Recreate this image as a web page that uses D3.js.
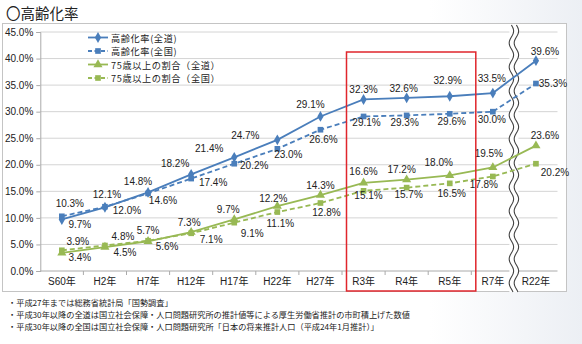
<!DOCTYPE html>
<html><head><meta charset="utf-8">
<script src="https://cdn.jsdelivr.net/npm/d3@7"></script>
<style>
body{margin:0;background:#fff;}
text{font-family:"Liberation Sans","Noto Sans CJK JP",sans-serif;fill:#222;}
</style></head>
<body>
<svg id="c" width="582" height="344"></svg>
<script>
const categories = ["S60年","H2年","H7年","H12年","H17年","H22年","H27年","R3年","R4年","R5年","R7年","R22年"];
const hokkaidoAging = [9.7,12.0,14.8,18.2,21.4,24.7,29.1,32.3,32.6,32.9,33.5,39.6];
const nationalAging = [10.3,12.1,14.6,17.4,20.2,23.0,26.6,29.1,29.3,29.6,30.0,35.3];
const hokkaido75 = [3.4,4.5,5.6,7.3,9.7,12.2,14.3,16.6,17.2,18.0,19.5,23.6];
const national75 = [3.9,4.8,5.7,7.1,9.1,11.1,12.8,15.1,15.7,16.5,17.8,20.2];
const yTicks = [0,5,10,15,20,25,30,35,40,45];
const seriesNames = ["高齢化率(全道)","高齢化率(全国)","75歳以上の割合（全道）","75歳以上の割合（全国）"];
const highlighted = ["R3年","R4年","R5年"];
const footnotes = [
  "・平成27年までは総務省統計局「国勢調査」",
  "・平成30年以降の全道は国立社会保障・人口問題研究所の推計値等による厚生労働省推計の市町積上げた数値",
  "・平成30年以降の全国は国立社会保障・人口問題研究所「日本の将来推計人口（平成24年1月推計）」"
];

// label offsets (style/layout, relative to each point)
const offHA = [[18,5],[22,3],[-10,-11],[-16,-11],[-25,-9],[-32,-4],[-10,-12],[0,-10],[-3,-9],[-2,-16],[-1,-15],[9,-9]];
const offNA = [[8,-13],[2,-12],[15,7],[22,4],[20,2],[11,6],[3,10],[3,6],[-2,7],[2,8],[-1,8],[17,0]];
const offH75 = [[18,5],[20,5],[19,5],[-2,-10],[-6,-10],[-4,-8],[0,-10],[0,-11],[-5,-10],[-11,-13],[-4,-14],[9,-10]];
const offN75 = [[16,-9],[18,-9],[0,-10],[20,6],[18,11],[3,11],[6,9],[5,5],[2,7],[2,10],[-9,8],[19,9]];

const svg = d3.select("#c");
const blue = "#4a7ebb", green = "#98b954";

// right-side tint
const defs = svg.append("defs");
const lg = defs.append("linearGradient").attr("id","bg").attr("x1","0").attr("x2","1");
lg.append("stop").attr("offset","0").attr("stop-color","#ffffff");
lg.append("stop").attr("offset","1").attr("stop-color","#eceff4");
svg.append("rect").attr("x",430).attr("y",0).attr("width",152).attr("height",344).attr("fill","url(#bg)");

// title
svg.append("text").attr("x",6).attr("y",19).attr("font-size",14.5)
  .style("font-family","'Noto Sans CJK JP',sans-serif").text("〇高齢化率");

// chart frame
svg.append("rect").attr("x",2.5).attr("y",23.5).attr("width",564).attr("height",268)
  .attr("fill","#fff").attr("stroke","#c4c4c4");

const x = d3.scaleBand().domain(categories).range([40.3,557.5]);
const cx = c => x(c) + x.bandwidth()/2;
const y = d3.scaleLinear().domain([0,45]).range([271,32]);

// gridlines
svg.append("g").selectAll("line").data(yTicks.filter(t=>t>0)).join("line")
  .attr("x1",40.3).attr("x2",557.5).attr("y1",d=>y(d)).attr("y2",d=>y(d))
  .attr("stroke","#d4d4d4");

// y axis
const ya = svg.append("g").attr("transform","translate(40.3,0)")
  .call(d3.axisLeft(y).tickValues(yTicks).tickSize(4).tickPadding(3).tickFormat(d=>d.toFixed(1)+"%"));
ya.select(".domain").attr("stroke","#aaa");
ya.selectAll(".tick line").attr("stroke","#aaa");
ya.selectAll("text").attr("font-size",10).style("fill","#222");

// x axis
const xa = svg.append("g").attr("transform","translate(0,271)")
  .call(d3.axisBottom(x).tickSize(0).tickPadding(7));
xa.select(".domain").attr("stroke","#aaa").attr("d","M40.3,0H557.5");
xa.selectAll("text").attr("font-size",10).style("fill","#222")
  .style("font-family","'Liberation Sans','Noto Sans CJK JP',sans-serif");
svg.append("g").selectAll("line").data(categories.slice(1)).join("line")
  .attr("x1",d=>x(d)).attr("x2",d=>x(d)).attr("y1",271).attr("y2",275).attr("stroke","#aaa");

// break band
const bx = x("R22年");
function wave(x0){
  let p = "";
  for(let yy=25; yy<=292; yy+=1){
    const xx = x0 + 2.2*Math.sin((yy-25)/24*2*Math.PI);
    p += (p?"L":"M")+xx.toFixed(2)+","+yy;
  }
  return p;
}
svg.append("rect").attr("x",bx-5).attr("y",25).attr("width",9).attr("height",267).attr("fill","#fff");
svg.append("path").attr("d",wave(bx-3)).attr("fill","none").attr("stroke","#444").attr("stroke-width",1.1);
svg.append("path").attr("d",wave(bx+2)).attr("fill","none").attr("stroke","#444").attr("stroke-width",1.1);

// series
const series = [
  {vals:hokkaidoAging, color:blue, dash:null, marker:"diamond", off:offHA},
  {vals:nationalAging, color:blue, dash:"5,3", marker:"square", off:offNA},
  {vals:hokkaido75, color:green, dash:null, marker:"triangle", off:offH75},
  {vals:national75, color:green, dash:"5,3", marker:"square", off:offN75}
];
const sym = {diamond:d3.symbol().type(d3.symbolDiamond).size(34),
             square:d3.symbol().type(d3.symbolSquare).size(32),
             triangle:d3.symbol().type(d3.symbolTriangle).size(36)};
const line = d3.line().x((d,i)=>cx(categories[i])).y(d=>y(d));

series.forEach(s=>{
  svg.append("path").attr("d",line(s.vals)).attr("fill","none").attr("stroke",s.color)
    .attr("stroke-width",1.8).attr("stroke-dasharray",s.dash);
  svg.append("g").selectAll("path").data(s.vals).join("path")
    .attr("d",sym[s.marker]).attr("fill",s.color)
    .attr("transform",(d,i)=>`translate(${cx(categories[i])},${y(d)})`);
  svg.append("g").selectAll("text").data(s.vals).join("text")
    .attr("x",(d,i)=>cx(categories[i])+s.off[i][0]).attr("y",(d,i)=>y(d)+s.off[i][1])
    .attr("text-anchor","middle").attr("dominant-baseline","central").attr("font-size",10)
    .text(d=>d.toFixed(1)+"%");
});

// highlight box
const hx0 = x(highlighted[0])+4.5, hx1 = x(highlighted[highlighted.length-1])+x.bandwidth()+4.5;
svg.append("rect").attr("x",hx0).attr("y",52).attr("width",hx1-hx0).attr("height",239)
  .attr("fill","none").attr("stroke","#e0262c").attr("stroke-width",1.5);

// legend
const lgd = svg.append("g");
series.forEach((s,i)=>{
  const ly = 37.5 + 13.5*i;
  lgd.append("line").attr("x1",88).attr("x2",108).attr("y1",ly).attr("y2",ly)
    .attr("stroke",s.color).attr("stroke-width",1.8).attr("stroke-dasharray",s.dash?"4,2.5":null);
  lgd.append("path").attr("d",sym[s.marker]).attr("fill",s.color).attr("transform",`translate(98,${ly})`);
  lgd.append("text").attr("x",111).attr("y",ly).attr("dominant-baseline","central")
    .attr("font-size",9.2).style("letter-spacing","0.6px")
    .style("font-family","'Noto Sans CJK JP',sans-serif").text(seriesNames[i]);
});

// footnotes
svg.append("g").selectAll("text").data(footnotes).join("text")
  .attr("x",8).attr("y",(d,i)=>306+12*i).attr("font-size",8.2)
  .style("font-family","'Noto Sans CJK JP',sans-serif").text(d=>d);
</script>
</body></html>
